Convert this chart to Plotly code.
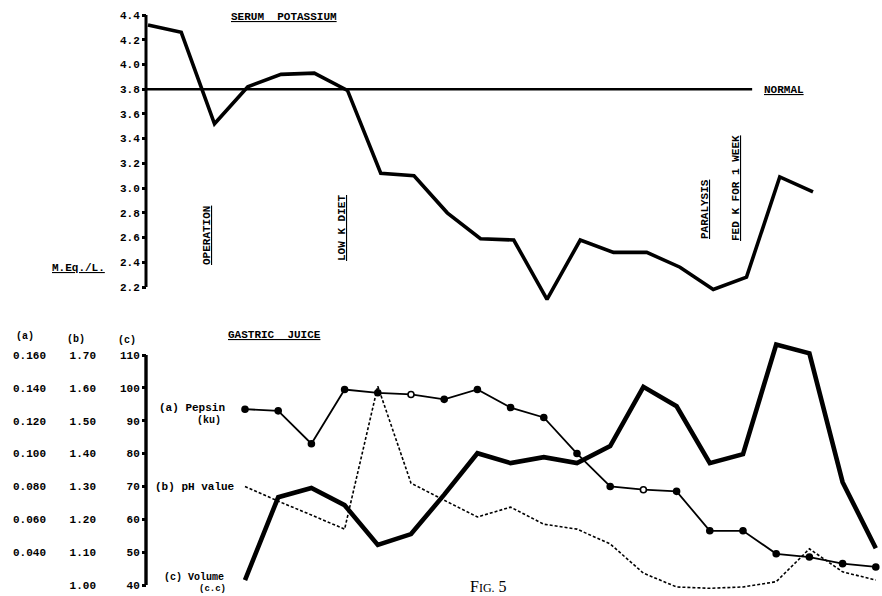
import plotly.graph_objects as go

W, H = 882, 596

# ---- Serum potassium (M.Eq./L.), successive determinations ----
k_obs = list(range(1, 22))
k_values = [4.32, 4.26, 3.52, 3.82, 3.92, 3.93, 3.79, 3.12, 3.10, 2.80, 2.59,
            2.58, 2.10, 2.58, 2.48, 2.48, 2.36, 2.18, 2.28, 3.09, 2.97]
k_normal = 3.8
k_ticks = [2.2, 2.4, 2.6, 2.8, 3.0, 3.2, 3.4, 3.6, 3.8, 4.0, 4.2, 4.4]

# ---- Gastric juice, successive collections ----
gj_obs = list(range(1, 21))
pepsin = [0.127, 0.126, 0.106, 0.139, 0.137, 0.136, 0.133, 0.139, 0.128, 0.122,
          0.100, 0.080, 0.078, 0.077, 0.053, 0.053, 0.039, 0.037, 0.033, 0.031]
pepsin_open = [6, 13]          # collections marked with an open circle
ph = [1.30, 1.255, 1.213, 1.17, 1.605, 1.31, 1.258, 1.207, 1.237, 1.185,
      1.17, 1.125, 1.036, 0.994, 0.99, 0.994, 1.01, 1.11, 1.04, 1.015]
volume = [41.5, 66.7, 69.5, 64.3, 52.2, 55.5, 67.5, 80.1, 77.1, 78.9,
          77.1, 82.3, 100.3, 94.4, 77.1, 79.8, 113.2, 110.5, 71.3, 51.2]

vol_ticks = [40, 50, 60, 70, 80, 90, 100, 110]
pepsin_ticks = [0.040, 0.060, 0.080, 0.100, 0.120, 0.140, 0.160]
ph_ticks = [1.00, 1.10, 1.20, 1.30, 1.40, 1.50, 1.60, 1.70]

FONT = "Liberation Mono"
SERIF = "Liberation Serif"


def px(x):
    return x / W


def py(y):
    return 1 - y / H


def lin_range(v_a, p_a, v_b, p_b, p_lo, p_hi):
    """Axis range for pixel extent [p_lo, p_hi] given two value/pixel anchors."""
    s = (v_b - v_a) / (p_b - p_a)
    return [v_a + (p_hi - p_a) * s, v_a + (p_lo - p_a) * s]


# layout geometry (pixels)
AX_X = 146
TOP_DOM = (4, 312)
BOT_DOM = (330, 596)

top_y_range = lin_range(4.4, 15, 2.2, 287, *TOP_DOM)
vol_range = lin_range(110, 355, 40, 585, *BOT_DOM)
pep_range = [0.160 - (110 - v) * 0.002 for v in vol_range]
ph_range = [1.00 + (v - 40) * 0.01 for v in vol_range]

x_top_range = [1 - 148 / 33.25, 1 + (W - 148) / 33.25]
x_bot_range = [1 - 245 / 33.2, 1 + (W - 245) / 33.2]

fig = go.Figure()

# serum potassium curve
fig.add_trace(go.Scatter(x=k_obs, y=k_values, mode="lines",
                         line=dict(color="black", width=3.6),
                         xaxis="x", yaxis="y", cliponaxis=False))

# pepsin
fig.add_trace(go.Scatter(
    x=gj_obs, y=pepsin, mode="lines+markers",
    line=dict(color="black", width=1.8),
    marker=dict(size=6, symbol="circle",
                color=["white" if o in pepsin_open else "black" for o in gj_obs],
                line=dict(color="black", width=1.6)),
    xaxis="x2", yaxis="y3", cliponaxis=False))

# pH
fig.add_trace(go.Scatter(x=gj_obs, y=ph, mode="lines",
                         line=dict(color="black", width=1.6, dash="3px,2px"),
                         xaxis="x2", yaxis="y4", cliponaxis=False))

# volume
fig.add_trace(go.Scatter(x=gj_obs, y=volume, mode="lines",
                         line=dict(color="black", width=4.6),
                         xaxis="x2", yaxis="y2", cliponaxis=False))

tickfont = dict(family=FONT, size=11, color="black", weight="bold")

fig.update_layout(
    width=W, height=H,
    margin=dict(l=0, r=0, t=0, b=0),
    paper_bgcolor="white", plot_bgcolor="white",
    showlegend=False,
    xaxis=dict(domain=[0, 1], range=x_top_range, visible=False, anchor="y"),
    xaxis2=dict(domain=[0, 1], range=x_bot_range, visible=False, anchor="y2"),
    yaxis=dict(domain=[py(TOP_DOM[1]), py(TOP_DOM[0])], range=top_y_range,
               anchor="free", position=px(AX_X), showline=False, showgrid=False,
               zeroline=False, ticks="outside", ticklen=4, tickwidth=2.5,
               tickcolor="black", tickvals=k_ticks,
               ticktext=[f"{t:.1f}" for t in k_ticks], tickfont=tickfont),
    yaxis2=dict(domain=[py(BOT_DOM[1]), py(BOT_DOM[0])], range=vol_range,
                anchor="free", position=px(AX_X), showline=False, showgrid=False,
                zeroline=False, ticks="outside", ticklen=4, tickwidth=2.5,
                tickcolor="black", tickvals=vol_ticks,
                ticktext=[str(t) for t in vol_ticks], tickfont=tickfont),
    yaxis3=dict(overlaying="y2", range=pep_range, anchor="free", position=px(46),
                side="left", showline=False, showgrid=False, zeroline=False,
                ticks="", tickvals=pepsin_ticks,
                ticktext=[f"{t:.3f}" for t in pepsin_ticks], tickfont=tickfont),
    yaxis4=dict(overlaying="y2", range=ph_range, anchor="free", position=px(96),
                side="left", showline=False, showgrid=False, zeroline=False,
                ticks="", tickvals=ph_ticks,
                ticktext=[f"{t:.2f}" for t in ph_ticks], tickfont=tickfont),
)

# axis spines between the end ticks, and the normal level
fig.add_shape(type="line", xref="paper", yref="y", x0=px(AX_X), x1=px(AX_X),
              y0=min(k_ticks), y1=max(k_ticks), line=dict(color="black", width=3))
fig.add_shape(type="line", xref="paper", yref="y2", x0=px(AX_X), x1=px(AX_X),
              y0=min(vol_ticks), y1=max(vol_ticks), line=dict(color="black", width=3.4))
fig.add_shape(type="line", xref="x", yref="y", x0=0.94, x1=19.17,
              y0=k_normal, y1=k_normal, line=dict(color="black", width=2.6))


def label(text, x, y, xanchor="center", yanchor="middle", angle=0, size=11,
          family=FONT, bold=True):
    fig.add_annotation(text=text, xref="paper", yref="paper", x=px(x), y=py(y),
                       xanchor=xanchor, yanchor=yanchor, textangle=angle,
                       showarrow=False,
                       font=dict(family=family, size=size, color="black",
                                 weight="bold" if bold else "normal"))


label("<u>SERUM  POTASSIUM</u>", 284, 17)
label("<u>NORMAL</u>", 762, 90, xanchor="left")
label("<u>M.Eq./L.</u>", 78, 268)
label("<u>OPERATION</u>", 207, 236, angle=-90)
label("<u>LOW K DIET</u>", 342, 228, angle=-90)
label("<u>PARALYSIS</u>", 705, 209, angle=-90)
label("<u>FED K FOR 1 WEEK</u>", 736, 188, angle=-90)

label("<u>GASTRIC  JUICE</u>", 274, 335)
label("(a)", 25, 336, size=10)
label("(b)", 76, 339, size=10)
label("(c)", 127, 340, size=10)
label("(a) Pepsin", 227, 408, xanchor="right")
label("(ku)", 223, 420, xanchor="right", size=10)
label("(b) pH value", 153, 487, xanchor="left")
label("(c) Volume", 162, 577, xanchor="left", size=10)
label("(c.c)", 212, 589, size=9)

label("F<span style='font-size:12px'>IG.</span> 5", 489, 597, yanchor="bottom",
      size=16, family=SERIF, bold=False)

fig.write_html("out.html")
